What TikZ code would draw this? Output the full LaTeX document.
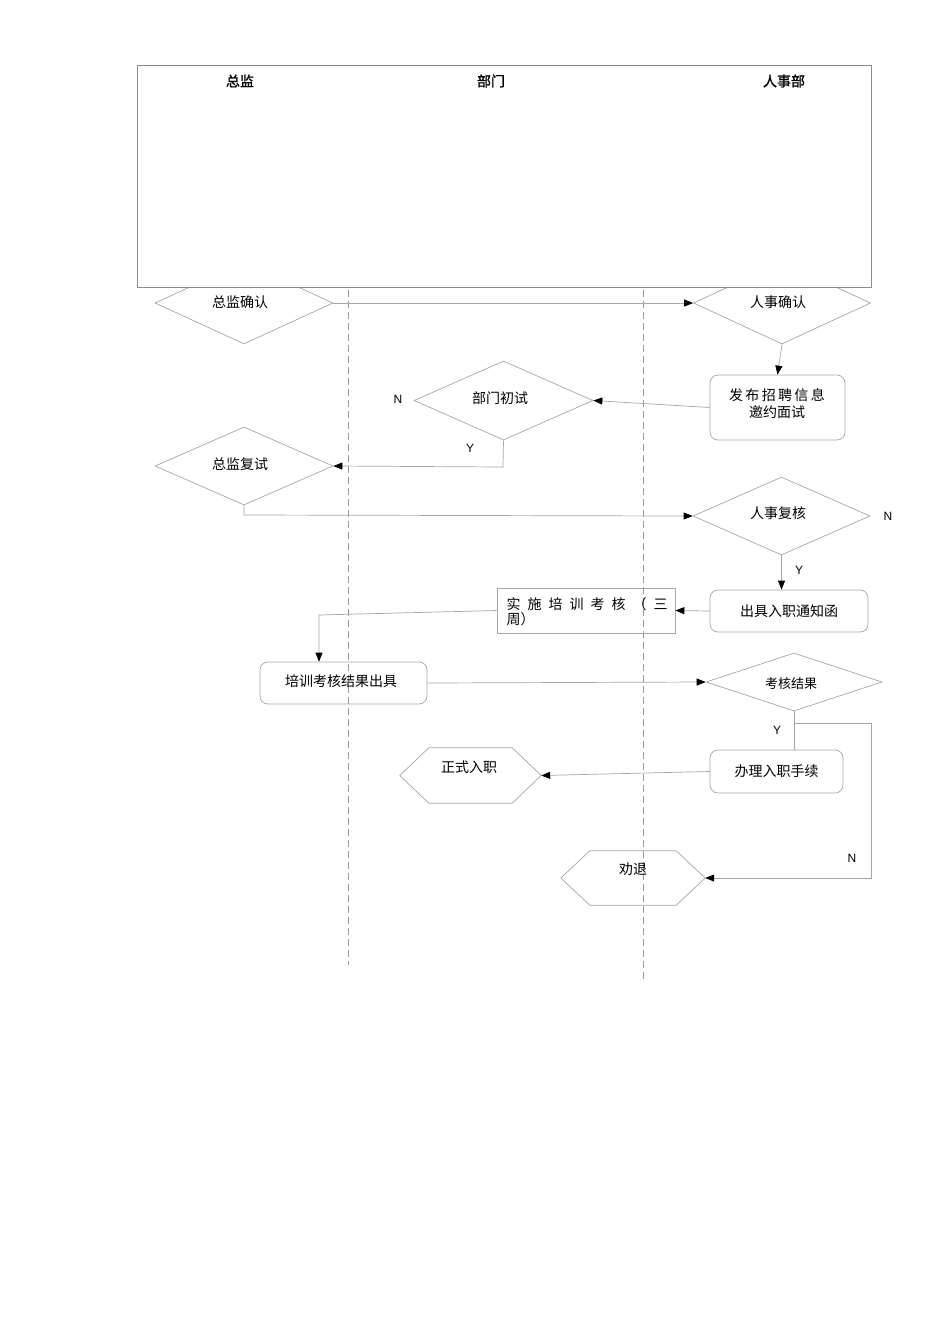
\documentclass[tikz,border=0pt]{standalone}
\usepackage{fontspec}
\newfontfamily\cjk{Noto Sans CJK SC}
\newfontfamily\cjkb[FakeBold=1.5]{Noto Sans CJK SC}
\newfontfamily\lat{Liberation Sans}
\usetikzlibrary{shapes.geometric,arrows.meta}
\begin{document}
\begin{tikzpicture}[x=1pt,y=-1pt,
  ln/.style={draw=black!35,line width=0.7pt},
  arr/.style={ln,-{Triangle[black,length=9pt,width=7pt]}},
  dia/.style={diamond,ln,inner sep=0pt,font=\cjk\fontsize{13}{15}\selectfont},
  rbox/.style={rectangle,rounded corners=8pt,ln,inner sep=0pt,align=center,font=\cjk\fontsize{14}{17}\selectfont},
  hexbox/.style={rectangle,inner sep=0pt,font=\cjk\fontsize{14}{17}\selectfont},
  lbl/.style={font=\lat\fontsize{12}{14}\selectfont},
  lane/.style={draw=black!40,dashed,dash pattern=on 7pt off 4pt,line width=0.6pt},
  ttl/.style={font=\cjkb\fontsize{14}{17}\selectfont}]
\useasboundingbox[fill=white] (0,0) rectangle (950,1344);
% lanes
\draw[lane] (348,290) -- (348,965);
\draw[lane] (643,290) -- (643,980);
% diamonds
\node[dia,minimum width=178pt,minimum height=82pt] (d1) at (244,303) {};
\node[dia,minimum width=177pt,minimum height=82pt] (d2) at (782,303) {};
\node[font=\cjk\fontsize{14}{17}\selectfont] at (240,302) {总监确认};
\node[font=\cjk\fontsize{14}{17}\selectfont] at (778,302) {人事确认};
% header box
\node[draw=black!45,fill=white,line width=0.7pt,minimum width=734pt,minimum height=222pt,inner sep=0pt] (hdr) at (504,176) {};
\node[ttl] (t1) at (240,81) {总监};
\node[ttl] (t2) at (491,81) {部门};
\node[ttl] (t3) at (784,81) {人事部};
% other nodes
\node[rbox,minimum width=135pt,minimum height=65pt] (fb) at (777.5,407.5) {};
\node[font=\cjk\fontsize{14}{17}\selectfont,align=center] at (777,404) {发\,布\,招\,聘\,信\,息\\邀约面试};
\node[dia,minimum width=179pt,minimum height=79pt] (d3) at (503.5,400.5) {};
\node[font=\cjk\fontsize{14}{17}\selectfont] at (500,398) {部门初试};
\node[dia,minimum width=178pt,minimum height=78pt] (d4) at (244,466) {};
\node[font=\cjk\fontsize{14}{17}\selectfont] at (240,464) {总监复试};
\node[dia,minimum width=177pt,minimum height=78pt] (d5) at (781.5,516) {};
\node[font=\cjk\fontsize{14}{17}\selectfont] at (778,513) {人事复核};
\node[rbox,minimum width=158pt,minimum height=42pt] (tz) at (789,611) {出具入职通知函};
\node[rectangle,ln,minimum width=178pt,minimum height=45pt,inner sep=0pt] (px) at (586,610.5) {};
\begin{scope}
\clip (498,589) rectangle (674,632);
\node[font=\cjk\fontsize{14}{17}\selectfont,anchor=north west,align=left] at (503,594) {实\,\,\,施\,\,\,培\,\,\,训\,\,\,考\,\,\,核\,\,\,（\,\,\,三\\[-2pt]周）};
\end{scope}
\node[rbox,minimum width=167pt,minimum height=42pt] (jg) at (343.5,683) {};
\node[font=\cjk\fontsize{14}{17}\selectfont] at (341,681) {培训考核结果出具};
\node[dia,minimum width=176pt,minimum height=58pt] (d6) at (794,682) {};
\node[font=\cjk\fontsize{13}{15}\selectfont] at (791,684) {考核结果};
\node[rbox,minimum width=133pt,minimum height=43pt] (bl) at (776.5,771.5) {办理入职手续};
\node[hexbox,minimum width=141pt,minimum height=55pt] (zs) at (470.5,775.5) {};
\node[font=\cjk\fontsize{14}{17}\selectfont] at (469,767) {正式入职};
\node[hexbox,minimum width=144pt,minimum height=54pt] (qt) at (633,878) {};
\node[font=\cjk\fontsize{14}{17}\selectfont] at (633,869) {劝退};
\foreach \h in {zs,qt}{
  \draw[ln] (\h.west) -- ([xshift=29pt]\h.north west) -- ([xshift=-29pt]\h.north east) -- (\h.east) -- ([xshift=-29pt]\h.south east) -- ([xshift=29pt]\h.south west) -- cycle;}
% labels
\node[lbl] (n1) at (398,399) {N};
\node[lbl] (y1) at (470,448) {Y};
\node[lbl] (n2) at (888,516) {N};
\node[lbl] (y2) at (799,570) {Y};
\node[lbl] (y3) at (777,730) {Y};
\node[lbl] (n3) at (852,858) {N};
\coordinate (c1) at (503,467);
\coordinate (c2) at (244,515);
\coordinate (c3) at (319,615);
\coordinate (c4) at (794,723);
\coordinate (c5) at (871,723);
\coordinate (c6) at (871,878);
% connectors
\draw[arr] (d1.east) -- (d2.west);
\draw[arr] (d2.south) -- (fb.north);
\draw[arr] (fb.west) -- (d3.east);
\draw[arr] (d3.south) -- (c1) -- (d4.east);
\draw[arr] (d4.south) -- (c2) -- (d5.west);
\draw[arr] (d5.south) -- (d5.south |- tz.north);
\draw[arr] (tz.west) -- (px.east);
\draw[arr] (px.west) -- (c3) -- (c3 |- jg.north);
\draw[arr] (jg.east) -- (d6.west);
\draw[ln] (d6.south) -- (d6.south |- bl.north);
\draw[arr] (c4) -- (c5) -- (c6) -- (qt.east);
\draw[arr] (bl.west) -- (zs.east);
\end{tikzpicture}
\end{document}
